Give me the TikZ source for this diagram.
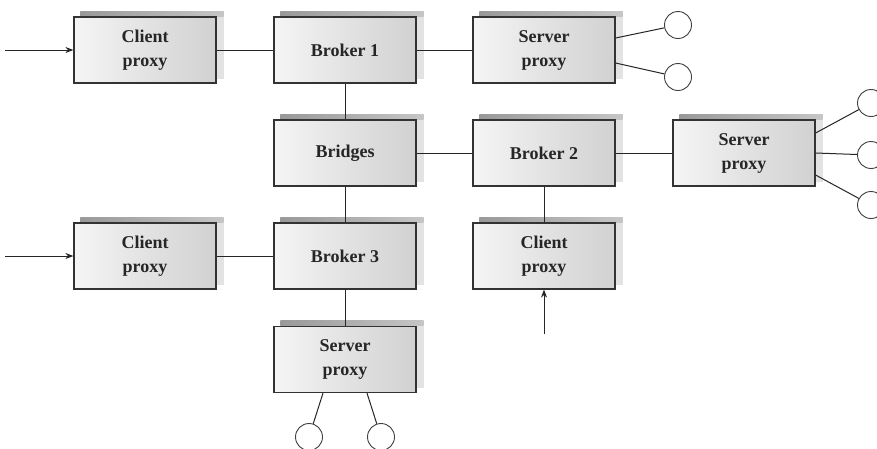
\documentclass[tikz,border=0pt]{standalone}
\usepackage{fontspec}
\setmainfont{Liberation Serif}
\usetikzlibrary{arrows.meta,backgrounds}
\begin{document}
\begin{tikzpicture}[x=1pt,y=-1pt,
  box/.style={draw=black!80, line width=1.2pt, left color=gray!8, right color=gray!36,
    minimum width=142pt, minimum height=66pt, inner sep=0pt, align=center,
    font=\fontsize{18}{24}\selectfont\bfseries, text=black!85},
  port/.style={circle, draw=black!75, line width=0.9pt, minimum size=27pt, inner sep=0pt, fill=white},
  link/.style={draw=black!85, line width=1pt},
  inarrow/.style={link, -{Stealth[length=8pt,width=6pt]}}]
\useasboundingbox (0,0) rectangle (877,448);
% boxes
\node[box] (cp1) at (145,50) {Client\\proxy};
\node[box] (b1)  at (345,50) {Broker 1};
\node[box] (sp1) at (544,50) {Server\\proxy};
\node[box] (br)  at (345,153) {Bridges};
\node[box] (b2)  at (544,153) {Broker 2};
\node[box] (sp2) at (744,153) {Server\\proxy};
\node[box] (cp2) at (145,256) {Client\\proxy};
\node[box] (b3)  at (345,256) {Broker 3};
\node[box] (cp3) at (544,256) {Client\\proxy};
\node[box] (sp3) at (345,359.5) {Server\\proxy};
% shadows
\begin{scope}[on background layer]
\fill[white] (0,0) rectangle (877,448);
\foreach \n in {cp1,b1,sp1,br,b2,sp2,cp2,b3,cp3,sp3}{
  \fill[gray!22] ([shift={(7pt,5pt)}]\n.south west) rectangle ([shift={(7pt,5pt)}]\n.north east);
  \shade[left color=gray!80, right color=gray!45] ([shift={(7pt,5pt)}]\n.north west) rectangle ([shift={(7pt,0pt)}]\n.north east);
}
\end{scope}
% ports
\node[port] (c1) at (678,25) {};
\node[port] (c2) at (678,77) {};
\node[port] (c3) at (871,103) {};
\node[port] (c4) at (871,155) {};
\node[port] (c5) at (871,205) {};
\node[port] (c6) at (309,437) {};
\node[port] (c7) at (381,437) {};
% free ends
\coordinate (a1) at (5,50);
\coordinate (a2) at (5,256);
\coordinate (a3) at (544,334);
% connectors
\draw[link] (cp1) -- (b1);
\draw[link] (b1) -- (sp1);
\draw[link] (b1) -- (br);
\draw[link] (br) -- (b2);
\draw[link] (b2) -- (sp2);
\draw[link] (b2) -- (cp3);
\draw[link] (br) -- (b3);
\draw[link] (cp2) -- (b3);
\draw[link] (b3) -- (sp3);
\draw[link] ([yshift=12pt]sp1.east) -- (c1);
\draw[link] ([yshift=-13pt]sp1.east) -- (c2);
\draw[link] ([yshift=20pt]sp2.east) -- (c3);
\draw[link] (sp2.east) -- (c4);
\draw[link] ([yshift=-22pt]sp2.east) -- (c5);
\draw[link] ([xshift=-22pt]sp3.south) -- (c6);
\draw[link] ([xshift=22pt]sp3.south) -- (c7);
\draw[inarrow] (a1) -- (cp1);
\draw[inarrow] (a2) -- (cp2);
\draw[inarrow] (a3) -- (cp3);
\end{tikzpicture}
\end{document}
